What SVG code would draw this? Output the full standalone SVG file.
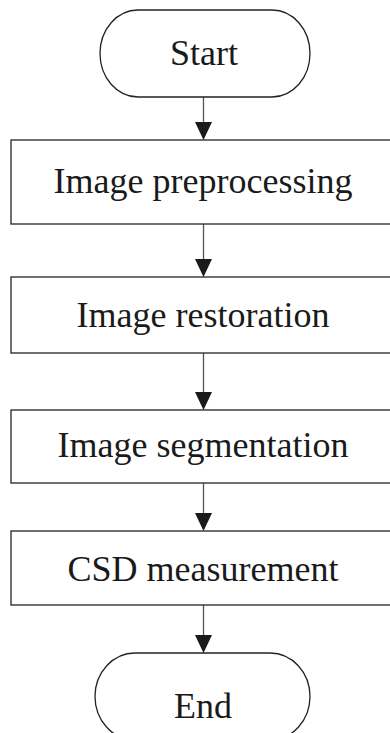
<svg xmlns="http://www.w3.org/2000/svg" width="390" height="733" viewBox="0 0 390 733">
<defs>
<style>
.shape{fill:#fff;stroke:#222;stroke-width:1.3}
.lbl{font-family:"Liberation Serif","Times New Roman",serif;font-size:36px;fill:#1a1a1a;text-anchor:middle}
.conn{stroke:#555;stroke-width:1.3;fill:none}
.head{fill:#1a1a1a}
</style>
</defs>
<rect width="390" height="733" fill="#fff"/>
<g id="connectors">
<line class="conn" x1="203.5" y1="97" x2="203.5" y2="124"/>
<polygon class="head" points="195,122 212,122 203.5,140"/>
<line class="conn" x1="203.5" y1="224" x2="203.5" y2="260"/>
<polygon class="head" points="195,259 212,259 203.5,277"/>
<line class="conn" x1="203.5" y1="353" x2="203.5" y2="393"/>
<polygon class="head" points="195,392 212,392 203.5,410"/>
<line class="conn" x1="203.5" y1="483" x2="203.5" y2="514"/>
<polygon class="head" points="195,513 212,513 203.5,531"/>
<line class="conn" x1="203.5" y1="605" x2="203.5" y2="636"/>
<polygon class="head" points="195,635 212,635 203.5,653"/>
</g>
<g id="start">
<rect class="shape" x="100" y="10" width="210" height="87" rx="38" ry="43.5"/>
<text class="lbl" x="204" y="65">Start</text>
</g>
<g id="preprocessing">
<rect class="shape" x="11" y="140" width="390" height="84"/>
<text class="lbl" x="203" y="193">Image preprocessing</text>
</g>
<g id="restoration">
<rect class="shape" x="11" y="277" width="390" height="76"/>
<text class="lbl" x="203" y="327">Image restoration</text>
</g>
<g id="segmentation">
<rect class="shape" x="11" y="410" width="390" height="73"/>
<text class="lbl" x="203" y="457">Image segmentation</text>
</g>
<g id="csd">
<rect class="shape" x="11" y="531" width="390" height="74"/>
<text class="lbl" x="203" y="581">CSD measurement</text>
</g>
<g id="end">
<rect class="shape" x="95" y="653" width="215" height="87" rx="40" ry="43.5"/>
<text class="lbl" x="203" y="718">End</text>
</g>
</svg>
